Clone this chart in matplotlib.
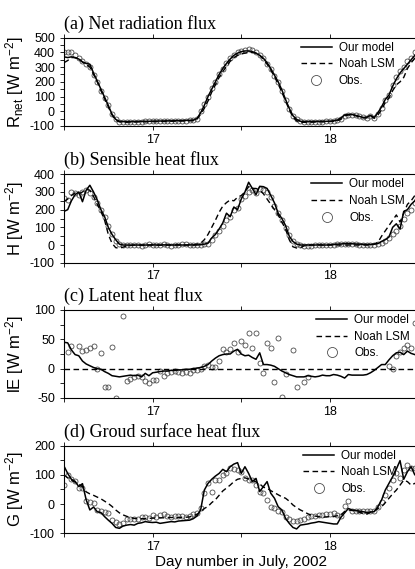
import numpy as np
import matplotlib
matplotlib.use('Agg')
import matplotlib.pyplot as plt
from matplotlib.ticker import MultipleLocator

plt.rcParams['font.family'] = ['Liberation Sans', 'DejaVu Sans']
plt.rcParams['mathtext.fontset'] = 'custom'
plt.rcParams['mathtext.rm'] = 'Liberation Sans'
plt.rcParams['mathtext.it'] = 'Liberation Sans:italic'
plt.rcParams['axes.unicode_minus'] = False

nan = np.nan

# half-hourly samples from noon 16 July to noon 18 July
day = 16.5 + np.arange(97) / 48.0

# (a) net radiation flux [W m-2]
obs_rnet = [405, 405, 400, 385, 365, 340, 320, 300, 245, 200, 140, 90, 40, -20, -55, -70,
            -72, -73, -72, -71, -70, -70, -69, -68, -68, -67, -67, -66, -66, -65, -65, -64, -64, -63, -62, -60,
            -50, 5, 50, 100, 160, 200, 255, 290, 325, 360, 385, 400,
            410, 415, 420, 415, 405, 385, 360, 320, 285, 240, 200, 140, 75, 15, -30, -55,
            -68, -70, -72, -72, -71, -70, -70, -69, -68, -66, -62,
            -50, -30, -25, -25, -28, -35, -40, -45, -30, -45, -20, 20, 80, 110, 180, 230, 275, 300, 340, 365, 400, 420]
model_rnet = [370, 365, 370, 365, 355, 335, 325, 320, 260, 205, 150, 95, 40, -20, -55, -68,
              -70, -71, -70, -70, -69, -69, -68, -68, -67, -67, -66, -66, -65, -65, -64, -64, -63, -62, -61, -60,
              -50, -10, 40, 100, 150, 200, 250, 290, 325, 355, 380, 395,
              405, 410, 410, 405, 395, 380, 360, 330, 290, 245, 200, 145, 80, 20, -30, -55,
              -68, -70, -70, -70, -69, -69, -68, -68, -67, -65, -60,
              -45, -25, -22, -22, -28, -35, -42, -40, -28, -42, -10, 30, 80, 110, 170, 220, 260, 290, 320, 350, 380, 400]
noah_rnet = [330, 345, 365, 365, 355, 335, 320, 300, 250, 200, 140, 85, 30, -25, -60, -72,
             -74, -74, -73, -73, -72, -72, -71, -71, -70, -70, -69, -69, -68, -68, -67, -67, -66, -66, -65, -63,
             -55, -20, 20, 70, 130, 180, 230, 270, 305, 340, 365, 380,
             390, 395, 400, 400, 395, 380, 355, 320, 280, 235, 185, 130, 70, 10, -40, -65,
             -75, -75, -74, -74, -73, -72, -72, -71, -70, -68, -64,
             -55, -30, -25, -25, -30, -38, -45, -45, -32, -48, -25, 10, 60, 90, 140, 180, 200, 230, 290, 330, 360, 390]

# (b) sensible heat flux
obs_h = [265, 255, 300, 295, 285, 300, 310, 295, 270, 240, 200, 160, 110, 60, 25, 5,
         0, -2, 0, 2, 0, -3, 0, 3, 0, -2, 0, 5, 0, -3, 2, 0, 3, 5, 0, 2,
         0, 2, 5, 8, 30, 55, 80, 110, 140, 160, 200, 210,
         260, 280, 300, 310, 295, 315, 310, 300, 270, 220, 180, 140, 95, 55, 20, 5,
         0, -3, -5, -3, 0, 2, 0, -2, 0, 0, 3,
         5, 5, 3, 5, 3, 2, 0, 2, 0, 2, 5, 10, 20, 40, 60, 80, 110, 150, 180, 200, 240, 280]
model_h = [190, 200, 250, 285, 300, 245, 310, 338, 300, 255, 200, 160, 100, 60, 30, 5,
           0, 0, -1, 0, 0, -1, 0, 0, 1, 0, 0, 1, 0, 0, 0, 1, 0, 0, 1, 0,
           0, 2, 5, 10, 40, 60, 90, 125, 180, 160, 215, 200,
           260, 300, 355, 320, 285, 332, 330, 320, 280, 238, 180, 150, 110, 50, 20, 5,
           0, 0, 0, 0, 0, 1, 0, 0, 1, 3, 5,
           6, 8, 8, 7, 6, 5, 4, 3, 3, 5, 8, 20, 30, 45, 100, 120, 90, 190, 200, 230, 250, 290]
noah_h = [245, 260, 280, 295, 290, 300, 315, 310, 275, 230, 190, 140, 60, 10, -15, -18,
          -12, -5, -2, 0, 0, 0, -1, 0, 0, 0, -1, 0, 0, 0, 0, 0, 0, 0, 0, 0,
          5, 10, 30, 60, 100, 140, 185, 220, 240, 255, 250, 270,
          280, 300, 330, 320, 320, 310, 290, 260, 230, 200, 170, 130, 90, 30, -10, -17,
          -15, -5, -2, 0, 0, 0, 0, 0, 0, 0, 0,
          0, 0, 0, 0, 0, 0, 0, 0, 0, 5, 15, 50, 80, 110, 140, 170, 130, 180, 230, 250, 280, 310]

# (c) latent heat flux (gaps in the observations)
obs_le = [nan, 28, 39, nan, 39, 30, 32, 36, 39, 0, 26, -31, -31, 37, -50, nan,
          90, -21, -17, -14, -12, -15, -21, -25, -19, -19, -4, -12, -8, -6, -4, -6, -8, -6, -8, -3,
          -3, -1, 4, 6, 2, 2, 13, 34, 28, 34, 43, 28,
          47, 40, 61, 36, 61, 10, -8, 43, 35, -22, 52, -48, -9, nan, 32, -32,
          nan, -22, -14, nan, nan, nan, nan, nan, nan, nan, nan,
          nan, nan, nan, nan, nan, nan, nan, nan, nan, nan, nan, nan, nan, 5, -1, 22, 28, 36, 41, 35, 77, nan]
model_le = [45, 44, 32, 24, 22, 13, 8, 5, 2, 0, -1, -5, -8, -12, -13, -14,
            -13, -12, -11, -12, -11, -14, -8, -12, -7, -6, -5, -4, -4, -3, -3, -2, -2, -1, -1, 0,
            1, 2, 4, 7, 13, 18, 22, 24, 25, 25, 30, 33,
            25, 22, 23, 19, 16, 27, 7, 7, 6, 4, 0, -4, -7, -10, -12, -14,
            -14, -14, -12, -13, -14, -13, -11, -12, -12, -10, -11,
            -13, -16, -10, -11, -11, -11, -11, -10, -7, -3, 2, 7, 7, 15, 22, 27, 28, 24, 30, 26, 24, 24]
noah_le = [0] * len(day)   # Noah LSM gives no latent flux here

# (d) ground surface heat flux
obs_g = [65, 100, 85, 80, 54, 54, 10, 8, 5, -20, -24, -28, -32, -55, -60, -69,
         -64, -52, -52, -51, -51, -43, -45, -47, -37, -43, -37, -34, -40, -43, -42, -40, -40, -43, -40, -34,
         -29, -15, 39, 71, 42, 82, 82, 100, 105, 122, 119, 117,
         111, 90, 82, 84, 65, 43, 39, 15, -9, -15, -24, -28, -43, -52, -58, -58,
         -55, -50, -45, -41, -41, -38, -38, -34, -34, -32, -36,
         -41, -7, 12, -24, -22, -25, -23, -25, -22, -22, -9, 8, 31, 54, 82, 105, 88, 117, 134, 125, 122, 110]
model_g = [130, 105, 85, 78, 60, 70, 15, -20, -10, -26, -29, -43, -55, -66, -80, -83,
           -75, -72, -70, -72, -66, -64, -60, -62, -63, -62, -66, -64, -62, -60, -61, -58, -57, -56, -55, -50,
           -41, -20, 48, 71, 85, 96, 105, 119, 111, 128, 137, 142,
           105, 128, 105, 77, 88, 43, 60, 77, 37, 20, -9, -20, -49, -66, -80, -85,
           -72, -70, -68, -65, -63, -60, -62, -64, -66, -68, -68,
           -45, -30, -15, -20, -22, -24, -26, -29, -27, -26, -9, 14, 48, 71, 94, 120, 149, 85, 111, 128, 100, 111]
noah_g = [100, 90, 82, 75, 68, 60, 42, 35, 30, 24, 18, 10, 2, -8, -20, -30,
          -37, -42, -46, -49, -50, -50, -50, -49, -48, -48, -47, -47, -46, -46, -46, -46, -45, -45, -44, -40,
          -35, -26, -15, -8, 5, 15, 30, 45, 55, 65, 77, 85,
          88, 90, 86, 82, 76, 69, 58, 54, 46, 39, 32, 25, 20, 10, -3, -12,
          -20, -26, -33, -38, -41, -43, -45, -44, -43, -43, -40,
          -37, -25, -20, -22, -24, -28, -32, -34, -28, -24, -15, -9, 5, 20, 35, 48, 65, 82, 77, 65, 71, 72]

titles = ['(a) Net radiation flux', '(b) Sensible heat flux',
          '(c) Latent heat flux', '(d) Groud surface heat flux']
ylabels = [r'R$_{\mathrm{net}}$ [W m$^{\mathrm{-2}}$]', r'H [W m$^{\mathrm{-2}}$]',
           r'lE [W m$^{\mathrm{-2}}$]', r'G [W m$^{\mathrm{-2}}$]']
series = [(model_rnet, noah_rnet, obs_rnet), (model_h, noah_h, obs_h),
          (model_le, noah_le, obs_le), (model_g, noah_g, obs_g)]
ylims = [(-100, 500), (-100, 400), (-50, 100), (-100, 200)]
ysteps = [(100, 50), (100, 50), (50, 25), (100, 50)]

# panel boxes in pixels (top, bottom) and legend x offsets
W, H = 415.0, 569.0
boxes = [(37.7, 126.0), (174.3, 262.7), (310.0, 398.0), (445.7, 533.3)]
legx = [0.668, 0.698, 0.712, 0.675]
left, right = 64.0, 418.5

fig = plt.figure(figsize=(W / 100, H / 100), dpi=100)

for k in range(4):
    top, bot = boxes[k]
    ax = fig.add_axes([left / W, 1 - bot / H, (right - left) / W, (bot - top) / H])
    model, noah, obs = series[k]
    ax.plot(day, model, color='k', lw=1.1, label='Our model', zorder=3)
    ax.plot(day, noah, color='k', lw=1.0, ls=(0, (4, 2.5)), label='Noah LSM', zorder=3)
    ax.plot(day, np.array(obs, dtype=float), ls='none', marker='o', ms=3.6, mfc='none',
            mec='0.3', mew=0.6, label='Obs.', zorder=2)

    ax.set_xlim(16.5, 18.5)
    ax.set_ylim(ylims[k])
    ax.set_xticks([17, 18])
    ax.xaxis.set_minor_locator(MultipleLocator(0.5))
    ax.yaxis.set_major_locator(MultipleLocator(ysteps[k][0]))
    ax.yaxis.set_minor_locator(MultipleLocator(ysteps[k][1]))
    ax.tick_params(which='both', direction='out', length=3, width=0.6, top=True,
                   labelsize=9, pad=2.5)
    ax.tick_params(axis='y', pad=3.5)
    for s in ax.spines.values():
        s.set_linewidth(0.8)

    ax.set_ylabel(ylabels[k], fontsize=12)
    ax.yaxis.set_label_coords(-0.108, 0.5)
    ax.annotate(titles[k], xy=(0, 1), xycoords='axes fraction', xytext=(0, 6.5),
                textcoords='offset points', va='baseline', ha='left',
                fontsize=13, family='Liberation Serif')

    ax.legend(loc='upper left', bbox_to_anchor=(legx[k], 0.955), frameon=False,
              fontsize=8.5, handlelength=2.6, handletextpad=0.6, labelspacing=0.4,
              borderpad=0, borderaxespad=0, markerscale=2.0)

fig.text(0.581, 1 - 562 / H, 'Day number in July, 2002', ha='center', va='center', fontsize=11)

fig.savefig('out.png', dpi=100)
